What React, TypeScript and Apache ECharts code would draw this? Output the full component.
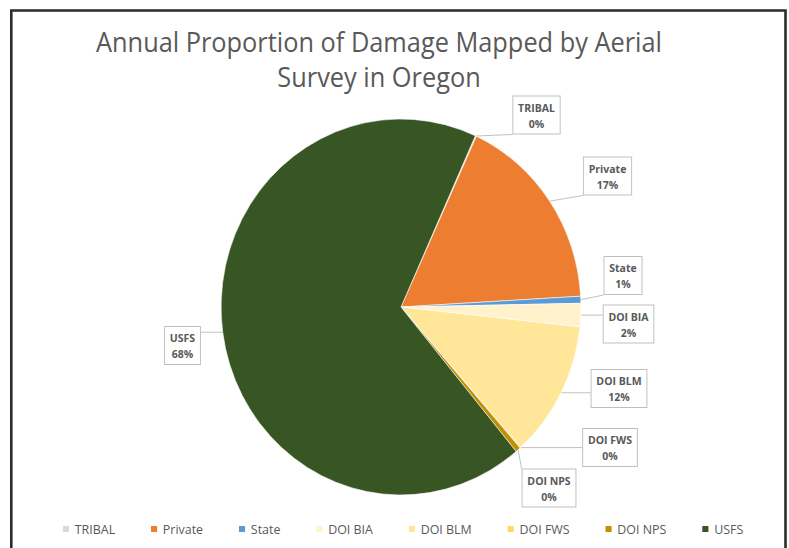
import React, { useEffect, useRef } from 'react';
import * as echarts from 'echarts';

// ---- data ----
const categories = ['TRIBAL', 'Private', 'State', 'DOI BIA', 'DOI BLM', 'DOI FWS', 'DOI NPS', 'USFS'];
const shares = [0.1, 17.2, 0.6, 2.0, 11.7, 0.1, 0.45, 67.8];
const colors = ['#d9d9d9', '#ed7d31', '#5b9bd5', '#fff2cc', '#ffe699', '#ffd966', '#bf9000', '#375623'];
const titleLines = ['Annual Proportion of Damage Mapped by Aerial', 'Survey in Oregon'];

// ---- layout (the reference is horizontally squeezed; render wider and scale) ----
const SX = 0.957;
const W = 789 / SX;
const H = 548;
// label box centres, screen px
const labelCenters = [
  [536.5, 115],
  [607.5, 176],
  [623, 275.5],
  [628.5, 324],
  [619, 388.5],
  [610, 447.5],
  [549, 488],
  [182.5, 345.5],
];

export default function App() {
  const ref = useRef<HTMLDivElement>(null);
  useEffect(() => {
    document.body.style.overflow = 'hidden';
    const chart = echarts.init(ref.current!, undefined, { renderer: 'svg', width: W, height: H });
    const option: any = {
      animation: false,
      backgroundColor: '#ffffff',
      graphic: [
        {
          type: 'rect',
          shape: { x: 11.8, y: 10.5, width: 809, height: 570 },
          style: { fill: 'none', stroke: '#2b2b2b', lineWidth: 2.7 },
          z: 100,
        },
        {
          type: 'text',
          x: 379 / SX,
          y: 24,
          style: {
            text: titleLines.join('\n'),
            fontFamily: 'Open Sans',
            fontSize: 26.5,
            lineHeight: 35,
            fill: '#595959',
            align: 'center',
            verticalAlign: 'top',
          },
        },
      ],
      legend: {
        data: categories,
        left: 61 / SX,
        top: 521,
        padding: 0,
        icon: 'rect',
        itemWidth: 8 / SX,
        itemHeight: 8,
        itemGap: 35.5,
        textStyle: { fontFamily: 'Open Sans', fontSize: 13, color: '#595959', lineHeight: 16 },
      },
      series: [
        {
          type: 'pie',
          center: [401 / SX, 307],
          radius: 188,
          startAngle: 65.6,
          clockwise: true,
          avoidLabelOverlap: false,
          percentPrecision: 0,
          data: categories.map((n, i) => ({ name: n, value: shares[i], itemStyle: { color: colors[i] } })),
          itemStyle: { borderColor: '#ffffff', borderWidth: 0.6 },
          emphasis: { disabled: true },
          label: {
            show: true,
            position: 'outside',
            formatter: '{b}\n{d}%',
            fontFamily: 'Open Sans',
            fontWeight: 'bold',
            fontSize: 11,
            lineHeight: 16,
            color: '#595959',
            backgroundColor: '#ffffff',
            borderColor: '#bfbfbf',
            borderWidth: 1,
            padding: [3, 5, 2, 5],
            align: 'center',
          },
          labelLine: { show: true, length: 10, length2: 10, lineStyle: { color: '#bfbfbf', width: 1 } },
          labelLayout: (p: any) => {
            const c = labelCenters[p.dataIndex];
            const cx = c[0] / SX;
            const cy = c[1];
            const w = p.labelRect.width;
            const h = p.labelRect.height;
            const p0 = p.labelLinePoints ? p.labelLinePoints[0] : [cx, cy];
            const l = cx - w / 2, r = cx + w / 2, t = cy - h / 2, b = cy + h / 2;
            const qx = Math.min(Math.max(p0[0], l), r);
            const qy = Math.min(Math.max(p0[1], t), b);
            return {
              x: cx,
              y: cy,
              align: 'center',
              verticalAlign: 'middle',
              labelLinePoints: [p0, [(p0[0] + qx) / 2, (p0[1] + qy) / 2], [qx, qy]],
            };
          },
        },
      ],
    };
    chart.setOption(option);
    return () => chart.dispose();
  }, []);
  return (
    <div
      ref={ref}
      style={{
        position: 'fixed',
        left: 0,
        top: 0,
        width: W,
        height: H,
        transform: `scaleX(${SX})`,
        transformOrigin: '0 0',
      }}
    />
  );
}
